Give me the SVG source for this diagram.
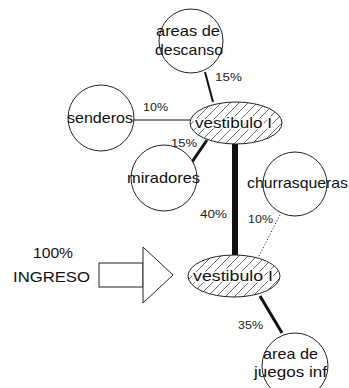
<svg xmlns="http://www.w3.org/2000/svg" width="349" height="388" viewBox="0 0 349 388">
<style>
.c{fill:#fff;stroke:#222;stroke-width:1}
.e{fill:url(#hatch);stroke:#222;stroke-width:1}
.t{font-family:"Liberation Sans",Arial,sans-serif;font-size:15px;fill:#111}
.h{paint-order:stroke;stroke:#fff;stroke-width:3px;stroke-linejoin:round}
.p{font-family:"Liberation Sans",Arial,sans-serif;font-size:11px;fill:#222}
.k{stroke:#111;fill:none}
</style>
<defs>
<pattern id="hatch" patternUnits="userSpaceOnUse" width="9" height="9">
<rect width="9" height="9" fill="#fff"/>
<path d="M-1,10 L10,-1 M-2,2 L2,-2 M7,11 L11,7" stroke="#444" stroke-width="0.8"/>
</pattern>
</defs>
<g id="connectors">
<line class="k" x1="205" y1="72" x2="213" y2="102" stroke-width="2"/>
<line class="k" x1="133" y1="120" x2="190" y2="120" stroke-width="1"/>
<line class="k" x1="192" y1="162" x2="207" y2="140" stroke-width="3"/>
<line class="k" x1="235" y1="144" x2="235" y2="255" stroke-width="6"/>
<line class="k" x1="280" y1="215" x2="259" y2="256" stroke-width="1" stroke-dasharray="1,2"/>
<line class="k" x1="260" y1="296" x2="282" y2="333" stroke-width="3"/>
<text class="p" x="215" y="81" textLength="27" lengthAdjust="spacingAndGlyphs">15%</text>
<text class="p" x="143" y="111" textLength="25" lengthAdjust="spacingAndGlyphs">10%</text>
<text class="p" x="171" y="147" textLength="26" lengthAdjust="spacingAndGlyphs">15%</text>
<text class="p" x="200" y="218" textLength="27" lengthAdjust="spacingAndGlyphs">40%</text>
<text class="p" x="248" y="223" textLength="25" lengthAdjust="spacingAndGlyphs">10%</text>
<text class="p" x="238" y="329" textLength="25" lengthAdjust="spacingAndGlyphs">35%</text>
</g>
<g id="descanso">
<circle class="c" cx="191" cy="41" r="32"/>
<text class="t" x="156" y="36" textLength="64" lengthAdjust="spacingAndGlyphs">areas de</text>
<text class="t" x="155" y="55" textLength="68" lengthAdjust="spacingAndGlyphs">descanso</text>
</g>
<g id="senderos">
<circle class="c" cx="101" cy="118" r="33"/>
<text class="t" x="67" y="123" textLength="66" lengthAdjust="spacingAndGlyphs">senderos</text>
</g>
<g id="miradores">
<circle class="c" cx="164" cy="178" r="33"/>
<text class="t" x="127" y="183" textLength="73" lengthAdjust="spacingAndGlyphs">miradores</text>
</g>
<g id="churrasqueras">
<circle class="c" cx="295" cy="184" r="32"/>
<text class="t" x="247" y="188" textLength="101" lengthAdjust="spacingAndGlyphs">churrasqueras</text>
</g>
<g id="juegos">
<circle class="c" cx="295" cy="366" r="33"/>
<text class="t" x="263" y="359" textLength="55" lengthAdjust="spacingAndGlyphs">area de</text>
<text class="t" x="254" y="377" textLength="73" lengthAdjust="spacingAndGlyphs">juegos inf</text>
</g>
<g id="vestibulo1">
<ellipse class="e" cx="236" cy="123" rx="46" ry="21"/>
<text class="t h" x="195" y="128" textLength="77" lengthAdjust="spacingAndGlyphs">vestibulo I</text>
</g>
<g id="vestibulo2">
<ellipse class="e" cx="234" cy="276" rx="46" ry="21"/>
<text class="t h" x="193" y="281" textLength="80" lengthAdjust="spacingAndGlyphs">vestibulo I</text>
</g>
<g id="ingreso">
<text class="t" x="33" y="258" textLength="40" lengthAdjust="spacingAndGlyphs">100%</text>
<text class="t" x="13" y="282" textLength="77" lengthAdjust="spacingAndGlyphs">INGRESO</text>
<rect x="99" y="263" width="44" height="24" fill="#fff" stroke="#222" stroke-width="1"/>
<polygon points="143,247 173,275 143,303" fill="#fff" stroke="#222" stroke-width="1"/>
</g>
</svg>
